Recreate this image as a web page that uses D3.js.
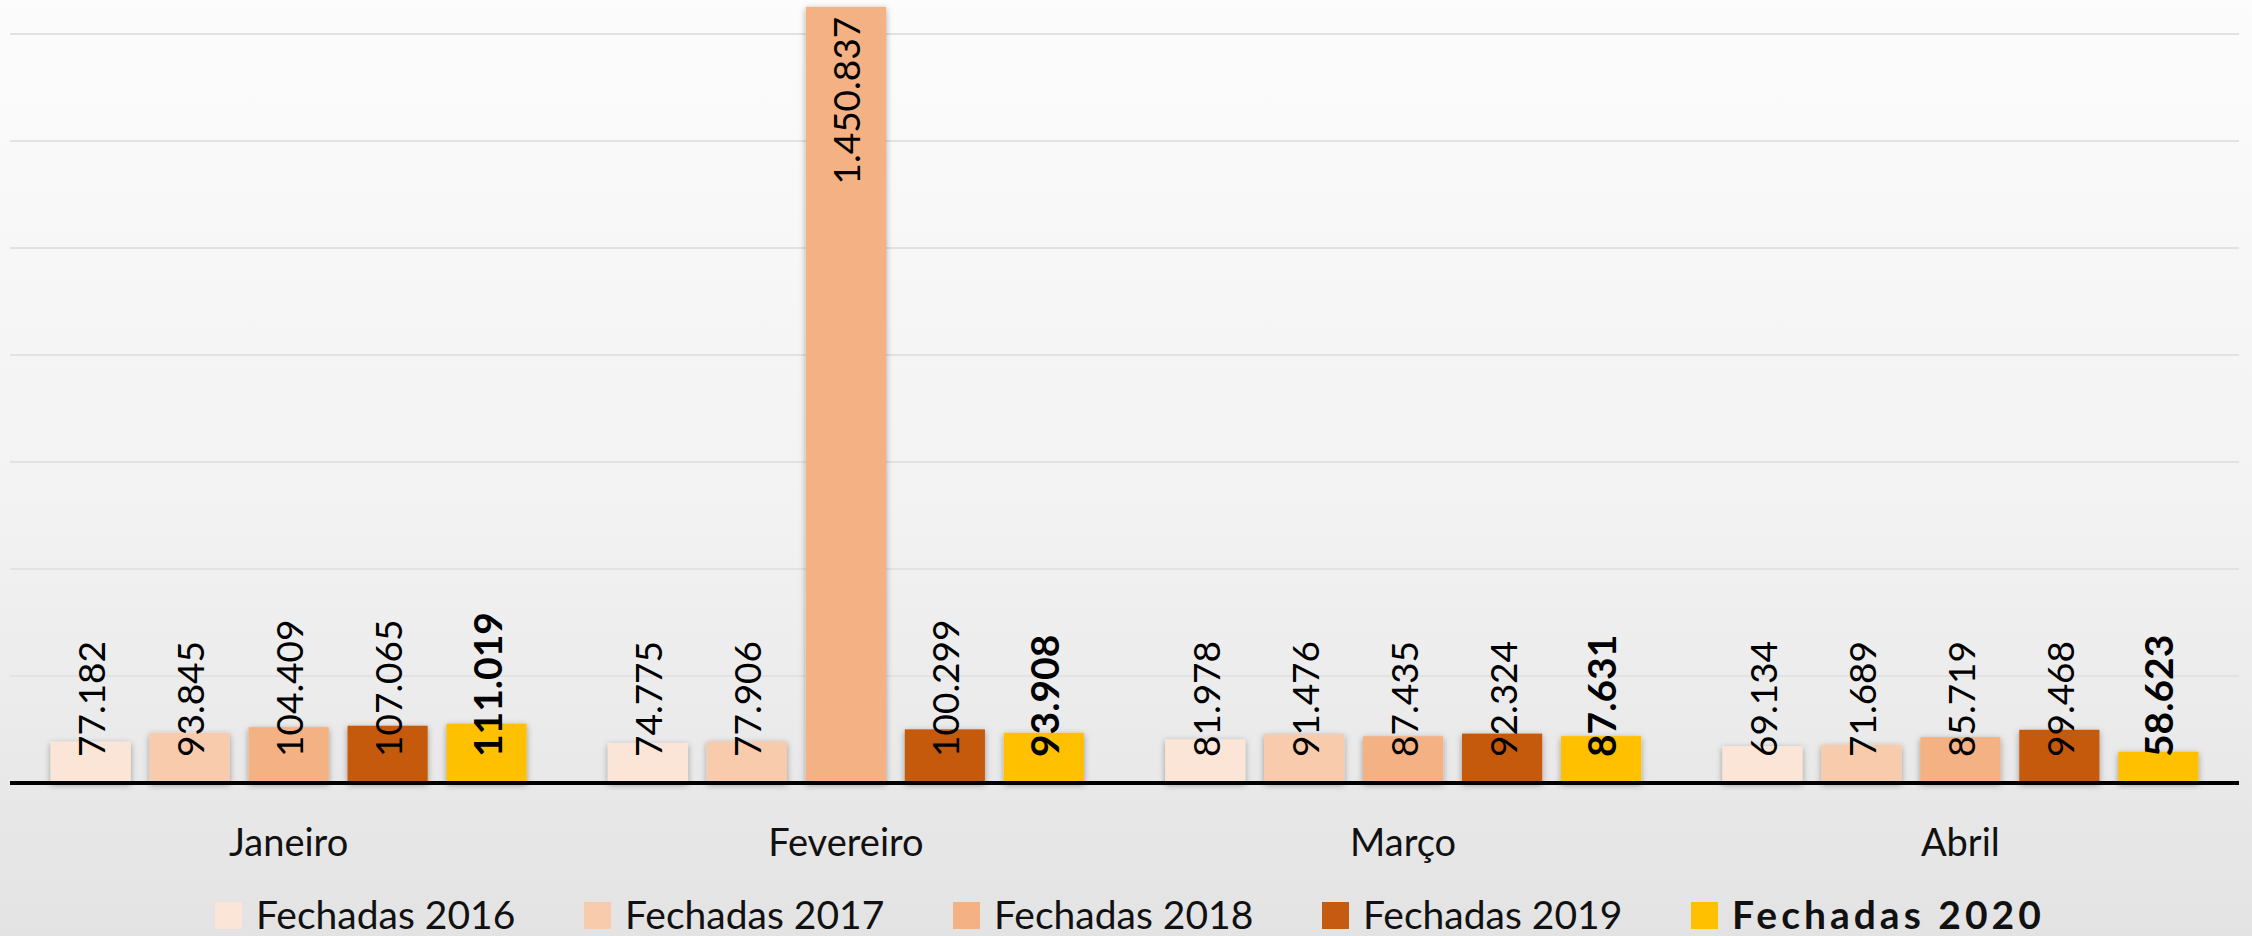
<!DOCTYPE html>
<html>
<head>
<meta charset="utf-8">
<script src="https://cdn.jsdelivr.net/npm/d3@7"></script>
<style>
  body { margin: 0; background: #eeeeee; }
  svg { display: block; }
  text { font-family: Lato, "Open Sans", sans-serif; }
</style>
</head>
<body>
<div id="chart"></div>
<script>
// Chart data
const months = ["Janeiro", "Fevereiro", "Março", "Abril"];
const seriesNames = ["Fechadas 2016", "Fechadas 2017", "Fechadas 2018", "Fechadas 2019", "Fechadas 2020"];
const fechadas2016 = [77182, 74775, 81978, 69134];
const fechadas2017 = [93845, 77906, 91476, 71689];
const fechadas2018 = [104409, 1450837, 87435, 85719];
const fechadas2019 = [107065, 100299, 92324, 99468];
const fechadas2020 = [111019, 93908, 87631, 58623];
const yTicks = [0, 200000, 400000, 600000, 800000, 1000000, 1200000, 1400000];

const seriesValues = [fechadas2016, fechadas2017, fechadas2018, fechadas2019, fechadas2020];
const colors = ["#FBE5D6", "#F8CBAD", "#F4B183", "#C55A11", "#FFC000"];

const W = 2252, H = 936;
const baseY = 783;

const fmt = d3.formatLocale({ decimal: ",", thousands: ".", grouping: [3], currency: ["", ""] }).format(",d");

const svg = d3.select("#chart").append("svg")
    .attr("width", W)
    .attr("height", H);

// Background
const defs = svg.append("defs");
const grad = defs.append("linearGradient")
    .attr("id", "bg")
    .attr("x1", 0).attr("y1", 0).attr("x2", 0).attr("y2", 1);
grad.append("stop").attr("offset", "0%").attr("stop-color", "#fcfcfc");
grad.append("stop").attr("offset", "55%").attr("stop-color", "#f2f2f2");
grad.append("stop").attr("offset", "100%").attr("stop-color", "#e3e3e3");

const shadow = defs.append("filter")
    .attr("id", "shadow")
    .attr("x", "-20%").attr("y", "-20%").attr("width", "140%").attr("height", "140%");
shadow.append("feDropShadow")
    .attr("dx", 0).attr("dy", 2)
    .attr("stdDeviation", 3)
    .attr("flood-color", "#000")
    .attr("flood-opacity", 0.35);

svg.append("rect")
    .attr("width", W).attr("height", H)
    .attr("fill", "url(#bg)");

// Scales
const x0 = d3.scaleBand()
    .domain(months)
    .range([10, 2239])
    .padding(0);

const x1 = d3.scaleBand()
    .domain(seriesNames)
    .range([0, x0.bandwidth()])
    .paddingInner(0.19)
    .paddingOuter(0.41);

const y = d3.scaleLinear()
    .domain([0, 1400000])
    .range([baseY, 34]);

// Gridlines
svg.append("g")
    .selectAll("line")
    .data(yTicks.slice(1))
    .enter().append("line")
    .attr("x1", 10)
    .attr("x2", 2239)
    .attr("y1", d => y(d))
    .attr("y2", d => y(d))
    .attr("stroke", "#e2e2e2")
    .attr("stroke-width", 2);

// Bars
const rows = months.map((m, i) => ({
    month: m,
    values: seriesNames.map((s, j) => ({ month: m, series: s, idx: j, value: seriesValues[j][i] }))
}));

const groups = svg.selectAll("g.month")
    .data(rows)
    .enter().append("g")
    .attr("class", "month")
    .attr("transform", d => `translate(${x0(d.month)},0)`);

groups.selectAll("rect")
    .data(d => d.values)
    .enter().append("rect")
    .attr("x", d => x1(d.series))
    .attr("y", d => y(d.value))
    .attr("width", x1.bandwidth())
    .attr("height", d => baseY - y(d.value))
    .attr("fill", d => colors[d.idx])
    .attr("filter", "url(#shadow)");

// Value labels (rotated)
groups.selectAll("text.val")
    .data(d => d.values)
    .enter().append("text")
    .attr("class", "val")
    .attr("transform", d => {
        const cx = x1(d.series) + x1.bandwidth() / 2;
        const tall = baseY - y(d.value) > 400;
        const ty = tall ? y(d.value) + 10 : baseY - 26;
        return `translate(${cx},${ty}) rotate(-90)`;
    })
    .attr("text-anchor", d => (baseY - y(d.value) > 400) ? "end" : "start")
    .attr("dominant-baseline", "central")
    .style("font-size", d => d.idx === 4 ? "39px" : "37px")
    .style("font-weight", d => d.idx === 4 ? "bold" : "normal")
    .attr("fill", "#000")
    .text(d => fmt(d.value));

// X axis line
svg.append("line")
    .attr("x1", 10)
    .attr("x2", 2239)
    .attr("y1", baseY)
    .attr("y2", baseY)
    .attr("stroke", "#000")
    .attr("stroke-width", 4);

// Category labels
svg.append("g")
    .selectAll("text")
    .data(months)
    .enter().append("text")
    .attr("x", d => x0(d) + x0.bandwidth() / 2)
    .attr("y", 856)
    .attr("text-anchor", "middle")
    .style("font-size", "38px")
    .attr("fill", "#111")
    .text(d => d);

// Legend
const legend = svg.append("g")
    .attr("transform", "translate(215,0)");

const item = legend.selectAll("g")
    .data(seriesNames)
    .enter().append("g")
    .attr("transform", (d, i) => `translate(${i * 369},0)`);

item.append("rect")
    .attr("x", 0)
    .attr("y", 902)
    .attr("width", 27)
    .attr("height", 27)
    .attr("fill", (d, i) => colors[i]);

item.append("text")
    .attr("x", 41)
    .attr("y", 929)
    .style("font-size", "39px")
    .style("font-weight", (d, i) => i === 4 ? "bold" : "normal")
    .style("letter-spacing", (d, i) => i === 4 ? "4px" : "0px")
    .attr("fill", "#111")
    .text(d => d);
</script>
</body>
</html>
